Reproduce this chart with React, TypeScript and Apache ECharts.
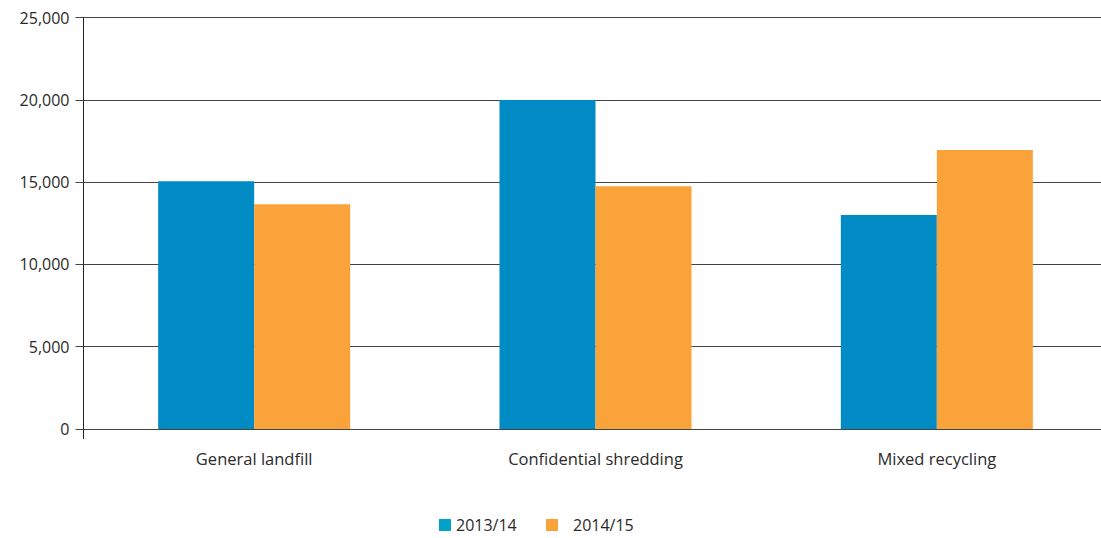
import React, { useEffect, useRef } from "react";
import * as echarts from "echarts";

const categories = ["General landfill", "Confidential shredding", "Mixed recycling"];
const series2013 = [15050, 19990, 13000];
const series2014 = [13650, 14750, 16950];
const yTicks = [0, 5000, 10000, 15000, 20000, 25000];

const BLUE = "#008BC4";
const ORANGE = "#F9A33A";
const FONT = "'Open Sans', sans-serif";
const TEXT = "#2a2a2a";

export default function App() {
  const ref = useRef<HTMLDivElement>(null);
  useEffect(() => {
    if (!ref.current) return;
    const chart = echarts.init(ref.current, undefined, { renderer: "svg" });
    chart.setOption({
      animation: false,
      textStyle: { fontFamily: FONT },
      grid: {
        left: 83.5,
        width: 1024,
        top: 17.5,
        height: 411.5,
        containLabel: false,
        outerBoundsMode: "none",
      },
      legend: [
        {
          left: 434,
          top: 512,
          itemWidth: 12,
          itemHeight: 12,
          icon: "rect",
          data: [{ name: "2013/14", itemStyle: { color: "#00A2C8" } }],
          textStyle: { fontSize: 16, color: TEXT, fontFamily: FONT },
        },
        {
          left: 541,
          top: 512,
          itemWidth: 12,
          itemHeight: 12,
          icon: "rect",
          data: ["2014/15"],
          formatter: (n: string) => "{a|" + n + "}",
          textStyle: {
            fontSize: 16,
            color: TEXT,
            fontFamily: FONT,
            rich: { a: { fontSize: 16, color: TEXT, fontFamily: FONT, padding: [0, 0, 0, 10] } },
          },
        },
      ],
      xAxis: {
        type: "category",
        data: categories,
        axisLine: { show: false },
        axisTick: {
          show: true,
          length: 10,
          interval: (i: number) => i === 0,
          lineStyle: { color: "#222", width: 1 },
        },
        axisLabel: { fontSize: 16.5, color: TEXT, margin: 21, fontFamily: FONT },
      },
      yAxis: {
        type: "value",
        min: yTicks[0],
        max: yTicks[yTicks.length - 1],
        interval: 5000,
        axisLine: { show: true, lineStyle: { color: "#222", width: 1 } },
        axisTick: { show: true, length: 8, lineStyle: { color: "#444", width: 1 } },
        axisLabel: {
          fontSize: 16,
          color: TEXT,
          margin: 14,
          fontFamily: FONT,
          formatter: (v: number) => v.toLocaleString("en-US"),
        },
        splitLine: { show: true, lineStyle: { color: "#444", width: 1 } },
      },
      series: [
        {
          name: "2013/14",
          type: "bar",
          data: series2013,
          barWidth: 96,
          barGap: "0%",
          itemStyle: { color: BLUE },
          z: 3,
        },
        {
          name: "2014/15",
          type: "bar",
          data: series2014,
          barWidth: 96,
          barGap: "0%",
          itemStyle: { color: ORANGE },
          z: 3,
        },
      ],
    });
    return () => chart.dispose();
  }, []);
  return (
    <div
      ref={ref}
      style={{ position: "fixed", left: 0, top: 0, width: 1101, height: 538, background: "#fff" }}
    />
  );
}
